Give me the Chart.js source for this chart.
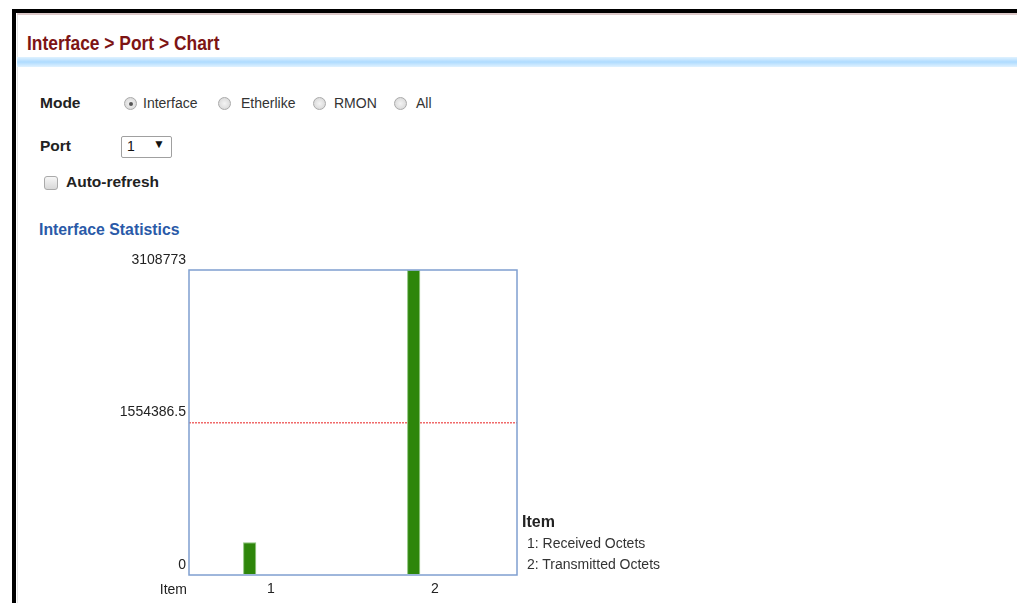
<!DOCTYPE html>
<html>
<head>
<meta charset="utf-8">
<script src="https://cdn.jsdelivr.net/npm/chart.js@4.4.1/dist/chart.umd.min.js"></script>
<style>
  html, body { margin: 0; padding: 0; background: #fff; width: 1017px; height: 603px; overflow: hidden; }
  body { position: relative; font-family: "Liberation Sans", Arial, sans-serif; font-size: 14px; color: #222; }
  .frame-top { position: absolute; left: 12px; top: 9px; right: 0; height: 4px; background: #000; }
  .frame-left { position: absolute; left: 12px; top: 9px; width: 4px; bottom: 0; background: #000; }
  .inner-top { position: absolute; left: 17px; top: 13px; right: 0; height: 2px; background: #dcc8c8; }
  .inner-left { position: absolute; left: 17px; top: 15px; width: 1px; bottom: 0; background: #e6e6e6; }
  .title { position: absolute; left: 27px; top: 32px; font-size: 20px; font-weight: bold; color: #7d1414;
    transform: scaleX(0.87); transform-origin: left top; white-space: nowrap; }
  .bluebar { position: absolute; left: 17px; right: 0; top: 57px; height: 10px;
    background: linear-gradient(#e0f2ff, #aedbff 50%, #e0f2ff); }
  .lbl { position: absolute; font-weight: bold; font-size: 15.5px; color: #222; white-space: nowrap; }
  .txt { position: absolute; color: #333; white-space: nowrap; }
  .radio { position: absolute; width: 13px; height: 13px; border-radius: 50%; border: 1px solid #aaa;
    background: radial-gradient(#f4f4f4, #d2d2d2); box-sizing: border-box; }
  .radio.on::after { content: ""; position: absolute; left: 3.5px; top: 3.5px; width: 4px; height: 4px; border-radius: 50%; background: #555; }
  .select { position: absolute; left: 121px; top: 136px; width: 51px; height: 22px; border: 1px solid #a0a0a0; border-radius: 2px; box-sizing: border-box; }
  .check { position: absolute; left: 44px; top: 176px; width: 14px; height: 14px; border: 1px solid #aaa; border-radius: 3px; box-sizing: border-box; background: linear-gradient(#f6f6f6, #d8d8d8); }
  .sect { position: absolute; left: 39px; top: 220px; font-size: 17px; font-weight: bold; color: #2a5aa8;
    transform: scaleX(0.93); transform-origin: left top; white-space: nowrap; }
  #wrap { position: absolute; left: 100px; top: 250px; width: 430px; height: 353px; }
</style>
</head>
<body>
<div class="frame-top"></div>
<div class="frame-left"></div>
<div class="inner-top"></div>
<div class="inner-left"></div>
<div class="title">Interface &gt; Port &gt; Chart</div>
<div class="bluebar"></div>

<div class="lbl" style="left:40px;top:94px;">Mode</div>
<div class="radio on" style="left:124px;top:97px;"></div>
<div class="txt" style="left:143px;top:95px;">Interface</div>
<div class="radio" style="left:218px;top:97px;"></div>
<div class="txt" style="left:241px;top:95px;">Etherlike</div>
<div class="radio" style="left:313px;top:97px;"></div>
<div class="txt" style="left:334px;top:95px;">RMON</div>
<div class="radio" style="left:394px;top:97px;"></div>
<div class="txt" style="left:416px;top:95px;">All</div>

<div class="lbl" style="left:40px;top:137px;">Port</div>
<div class="select"></div>
<div class="txt" style="left:127px;top:138px;color:#111;">1</div>
<div class="txt" style="left:153px;top:137px;color:#111;font-size:12px;">&#9660;</div>

<div class="check"></div>
<div class="lbl" style="left:66px;top:173px;">Auto-refresh</div>

<div class="sect">Interface Statistics</div>

<div id="wrap"><canvas id="chart"></canvas></div>

<div class="lbl" style="left:522px;top:513px;font-size:16px;">Item</div>
<div class="txt" style="left:527px;top:535px;">1: Received Octets</div>
<div class="txt" style="left:527px;top:556px;">2: Transmitted Octets</div>

<script>
const items = ["1", "2"];
const octets = [333000, 3108773];
const yTicks = [0, 1554386.5, 3108773];

// draws the blue box round the plot area and the "Item" caption
const boxPlugin = {
  id: "box",
  afterDraw(chart) {
    const { ctx, chartArea: a } = chart;
    ctx.save();
    ctx.strokeStyle = "#7f9fd0";
    ctx.lineWidth = 1.5;
    ctx.strokeRect(a.left, a.top, a.right - a.left, a.bottom - a.top);
    ctx.fillStyle = "#222";
    ctx.font = "14px 'Liberation Sans', Arial, sans-serif";
    ctx.textAlign = "right";
    ctx.textBaseline = "middle";
    ctx.fillText("Item", a.left - 2, a.bottom + 15);
    ctx.restore();
  },
};

new Chart(document.getElementById("chart"), {
  type: "bar",
  data: {
    labels: items,
    datasets: [
      {
        data: octets,
        backgroundColor: "#2e860a",
        borderColor: "#8cc47a",
        borderWidth: 1,
        categoryPercentage: 0.52,
        barPercentage: 0.31,
      },
      {
        data: [null, null],
        categoryPercentage: 0.52,
        barPercentage: 0.31,
      },
    ],
  },
  options: {
    responsive: true,
    maintainAspectRatio: false,
    animation: false,
    layout: { padding: { top: 20, right: 13 } },
    plugins: { legend: { display: false }, tooltip: { enabled: false } },
    scales: {
      x: {
        grid: { display: false, drawTicks: false },
        border: { display: false },
        ticks: { color: "#222", font: { size: 14, family: "'Liberation Sans', Arial, sans-serif" }, padding: 6 },
        afterFit(s) { s.height = 28; },
      },
      y: {
        min: 0,
        max: yTicks[yTicks.length - 1],
        afterBuildTicks(s) { s.ticks = yTicks.map((v) => ({ value: v })); },
        grid: {
          drawTicks: false,
          color: (c) => (c.tick && c.tick.value === yTicks[1] ? "#f06a6a" : "rgba(0,0,0,0)"),
          lineWidth: 1.5,
        },
        border: { display: false, dash: [2, 1] },
        ticks: {
          color: "#222",
          font: { size: 14, family: "'Liberation Sans', Arial, sans-serif" },
          padding: 3,
          labelOffset: -10,
          callback: (v) => String(v),
        },
        afterFit(s) { s.width = 89; },
      },
    },
  },
  plugins: [boxPlugin],
});
</script>
</body>
</html>
